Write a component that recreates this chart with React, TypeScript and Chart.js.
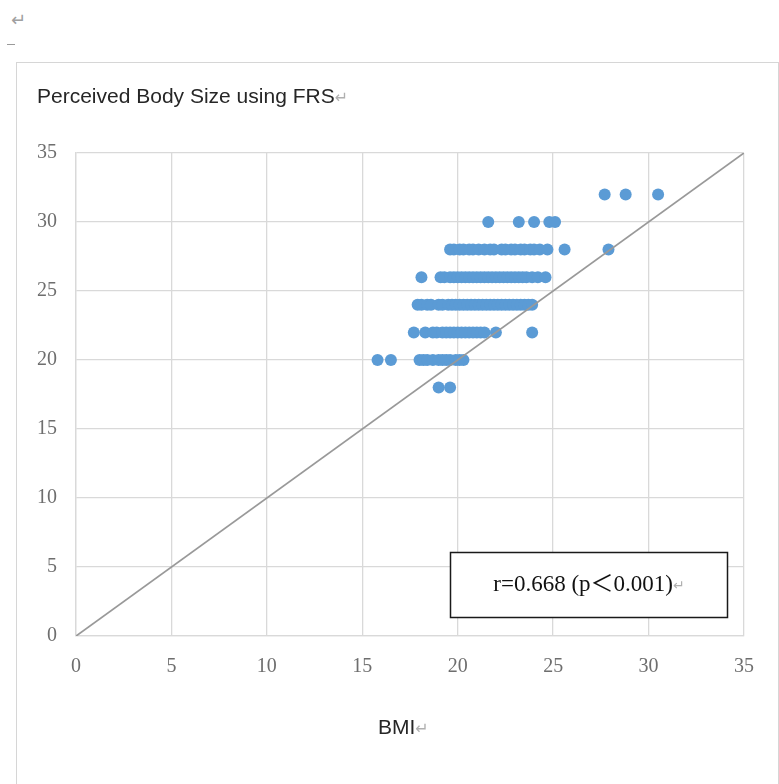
import React, { useEffect, useRef } from "react";
import { Chart, registerables } from "chart.js";

Chart.register(...registerables);

// Perceived body size (FRS) rows with BMI values
const frsLevels = [18, 20, 22, 24, 26, 28, 30, 32];
const bmiAt18 = [19.0, 19.6];
const bmiAt20 = [15.8, 16.5, 18.0, 18.2, 18.4, 18.7, 19.0, 19.2, 19.4, 19.6, 19.9, 20.1, 20.3];
const bmiAt22 = [17.7, 18.3, 18.7, 18.9, 19.2, 19.4, 19.6, 19.8, 20.0, 20.2, 20.4, 20.6, 20.8, 21.0, 21.2, 21.4, 22.0, 23.9];
const bmiAt24 = [17.9, 18.1, 18.4, 18.6, 19.0, 19.2, 19.5, 19.7, 19.9, 20.1, 20.3, 20.5, 20.7, 20.9, 21.1, 21.3, 21.5, 21.7, 21.9, 22.1, 22.3, 22.5, 22.7, 22.9, 23.1, 23.3, 23.5, 23.7, 23.9];
const bmiAt26 = [18.1, 19.1, 19.3, 19.6, 19.8, 20.0, 20.2, 20.4, 20.6, 20.8, 21.0, 21.2, 21.4, 21.6, 21.8, 22.0, 22.2, 22.4, 22.6, 22.8, 23.0, 23.2, 23.4, 23.6, 23.9, 24.2, 24.6];
const bmiAt28 = [19.6, 19.8, 20.1, 20.3, 20.6, 20.8, 21.1, 21.4, 21.7, 21.9, 22.3, 22.5, 22.8, 23.0, 23.3, 23.5, 23.8, 24.0, 24.3, 24.7, 25.6, 27.9];
const bmiAt30 = [21.6, 23.2, 24.0, 24.8, 25.1];
const bmiAt32 = [27.7, 28.8, 30.5];
const bmiRows = [bmiAt18, bmiAt20, bmiAt22, bmiAt24, bmiAt26, bmiAt28, bmiAt30, bmiAt32];

// identity reference line y = x
const refLineEnds = [0, 35];
const axisTicks = [0, 5, 10, 15, 20, 25, 30, 35];

const titleText = "Perceived Body Size using FRS";
const xAxisText = "BMI";
const noteText = "r=0.668 (p\uFF1C0.001)";

const RET = "\u21B5";

export default function App() {
  const canvasRef = useRef<HTMLCanvasElement | null>(null);

  useEffect(() => {
    document.body.style.margin = "0";
    const canvas = canvasRef.current;
    if (!canvas) return;

    const points: { x: number; y: number }[] = [];
    bmiRows.forEach((row, i) => {
      row.forEach((b) => points.push({ x: b, y: frsLevels[i] }));
    });

    const notePlugin = {
      id: "noteBox",
      afterDatasetsDraw(chart: any) {
        const { ctx, scales } = chart;
        const xs = scales.x;
        const ys = scales.y;
        const l = Math.round(xs.getPixelForValue(19.6)) + 0.5;
        const r = Math.round(xs.getPixelForValue(34.1)) + 0.5;
        const t = Math.round(ys.getPixelForValue(6.1)) + 0.5;
        const b = Math.round(ys.getPixelForValue(1.4)) + 0.5;
        ctx.save();
        ctx.fillStyle = "#ffffff";
        ctx.fillRect(l, t, r - l, b - t);
        ctx.strokeStyle = "#1a1a1a";
        ctx.lineWidth = 1.5;
        ctx.strokeRect(l, t, r - l, b - t);
        const mainFont = "23px 'Liberation Serif', 'Noto Sans CJK JP', serif";
        const retFont = "14px 'DejaVu Sans'";
        ctx.font = mainFont;
        const w1 = ctx.measureText(noteText).width;
        ctx.font = retFont;
        const w2 = ctx.measureText(RET).width;
        const total = w1 + w2;
        const cx = (l + r) / 2;
        const cy = (t + b) / 2;
        const sx = cx - total / 2;
        ctx.textBaseline = "middle";
        ctx.textAlign = "left";
        ctx.font = mainFont;
        ctx.fillStyle = "#111111";
        ctx.fillText(noteText, sx, cy);
        ctx.font = retFont;
        ctx.fillStyle = "#b0b0b0";
        ctx.fillText(RET, sx + w1, cy + 1);
        ctx.restore();
      },
    };

    const chart = new Chart(canvas, {
      type: "scatter",
      data: {
        datasets: [
          {
            type: "line",
            label: "y = x",
            data: refLineEnds.map((v) => ({ x: v, y: v })),
            borderColor: "#999999",
            borderWidth: 1.8,
            pointRadius: 0,
            fill: false,
            order: 0,
          } as any,
          {
            label: "FRS vs BMI",
            data: points,
            backgroundColor: "#5b9bd5",
            borderWidth: 0,
            pointRadius: 6,
            order: 1,
          },
        ],
      },
      options: {
        animation: false,
        responsive: false,
        devicePixelRatio: 1,
        layout: { padding: { top: 153, right: 35, left: 0, bottom: 0 } },
        plugins: {
          legend: { display: false },
          tooltip: { enabled: false },
        },
        scales: {
          x: {
            type: "linear",
            min: 0,
            max: 35,
            afterBuildTicks: (s: any) => {
              s.ticks = axisTicks.map((v) => ({ value: v }));
            },
            afterFit: (s: any) => {
              s.height = 148;
            },
            grid: { color: "#d9d9d9", lineWidth: 1.3, drawTicks: false },
            border: { color: "#d9d9d9", width: 1.3 },
            ticks: {
              padding: 19,
              color: "#6e6e6e",
              font: { family: "'Liberation Serif', serif", size: 20 },
              maxRotation: 0,
            },
          },
          y: {
            type: "linear",
            min: 0,
            max: 35,
            afterBuildTicks: (s: any) => {
              s.ticks = axisTicks.map((v) => ({ value: v }));
            },
            afterFit: (s: any) => {
              s.width = 76;
            },
            grid: { color: "#d9d9d9", lineWidth: 1.3, drawTicks: false },
            border: { color: "#d9d9d9", width: 1.3 },
            ticks: {
              padding: 19,
              color: "#6e6e6e",
              font: { family: "'Liberation Serif', serif", size: 20 },
            },
          },
        },
      },
      plugins: [notePlugin],
    });

    return () => chart.destroy();
  }, []);

  return (
    <div
      style={{
        position: "relative",
        width: 779,
        height: 784,
        overflow: "hidden",
        background: "#ffffff",
        fontFamily: "'Liberation Sans', Arial, sans-serif",
      }}
    >
      <div
        style={{
          position: "absolute",
          left: 11,
          top: 10,
          fontFamily: "'DejaVu Sans'",
          fontSize: 18,
          color: "#a0a0a0",
          lineHeight: "20px",
        }}
      >
        {RET}
      </div>
      <div
        style={{
          position: "absolute",
          left: 7,
          top: 44,
          width: 8,
          height: 1,
          background: "#9a9a9a",
        }}
      />
      <div
        style={{
          position: "absolute",
          left: 16,
          top: 62,
          width: 763,
          height: 760,
          boxSizing: "border-box",
          border: "1.5px solid #d6d6d6",
        }}
      />
      <canvas
        ref={canvasRef}
        width={779}
        height={784}
        style={{ position: "absolute", left: 0, top: 0, width: 779, height: 784 }}
      />
      <div
        style={{
          position: "absolute",
          left: 37,
          top: 85,
          fontSize: 21,
          lineHeight: "21px",
          color: "#262626",
          whiteSpace: "nowrap",
        }}
      >
        {titleText}
        <span style={{ fontFamily: "'DejaVu Sans'", fontSize: 16, color: "#b0b0b0" }}>{RET}</span>
      </div>
      <div
        style={{
          position: "absolute",
          left: 378,
          top: 716,
          fontSize: 21,
          lineHeight: "21px",
          color: "#262626",
          whiteSpace: "nowrap",
        }}
      >
        {xAxisText}
        <span style={{ fontFamily: "'DejaVu Sans'", fontSize: 16, color: "#b0b0b0" }}>{RET}</span>
      </div>
    </div>
  );
}
